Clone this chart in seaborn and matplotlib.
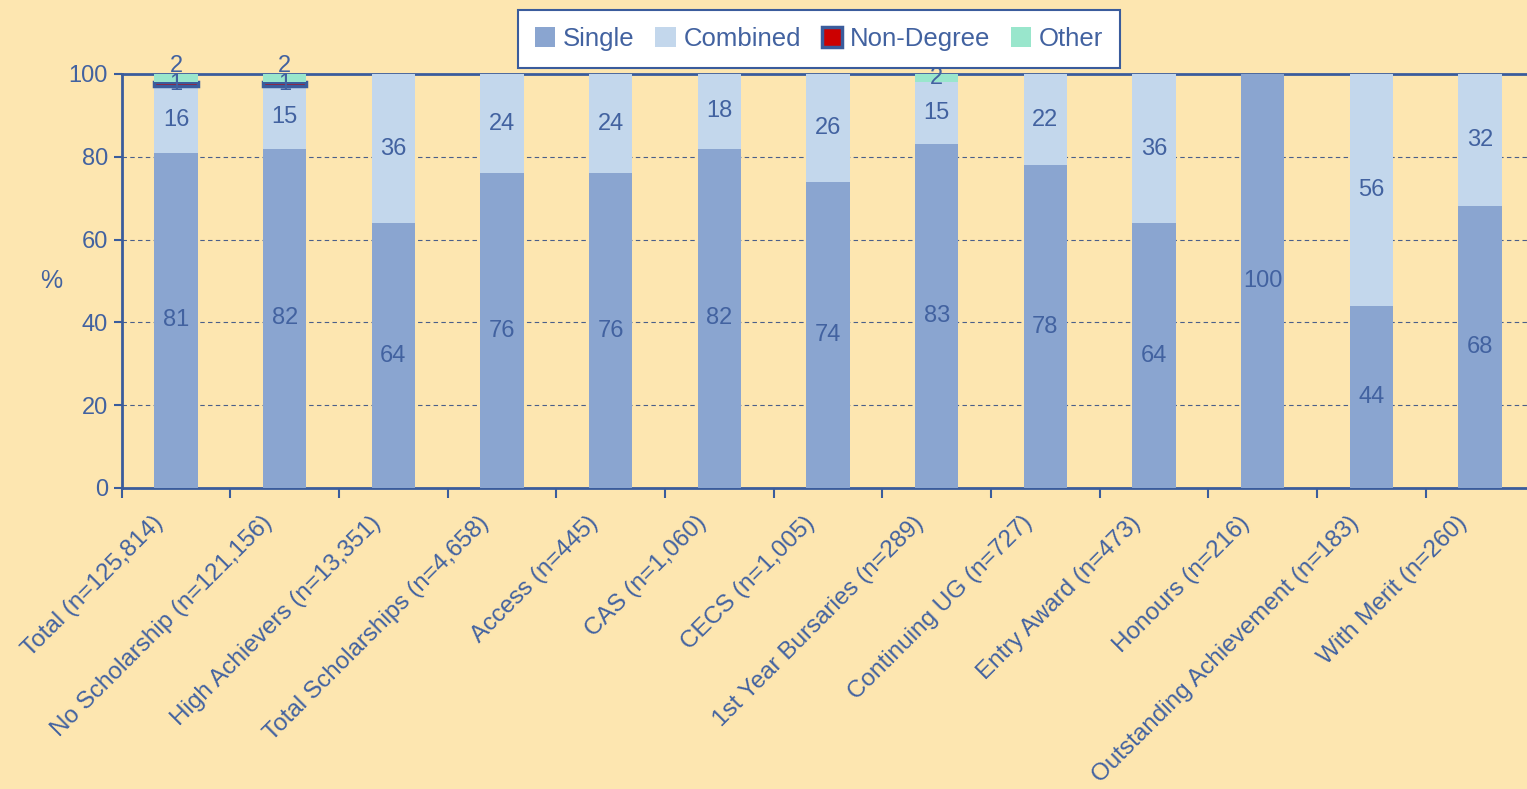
import pandas as pd
import numpy as np
import matplotlib.pyplot as plt
import matplotlib.transforms as mtransforms
import seaborn as sns

categories = ["Total (n=125,814)", "No Scholarship (n=121,156)", "High Achievers (n=13,351)",
              "Total Scholarships (n=4,658)", "Access (n=445)", "CAS (n=1,060)", "CECS (n=1,005)",
              "1st Year Bursaries (n=289)", "Continuing UG (n=727)", "Entry Award (n=473)",
              "Honours (n=216)", "Outstanding Achievement (n=183)", "With Merit (n=260)"]
single = [81, 82, 64, 76, 76, 82, 74, 83, 78, 64, 100, 44, 68]
combined = [16, 15, 36, 24, 24, 18, 26, 15, 22, 36, 0, 56, 32]
non_degree = [1, 1, 0, 0, 0, 0, 0, 0, 0, 0, 0, 0, 0]
other = [2, 2, 0, 0, 0, 0, 0, 2, 0, 0, 0, 0, 0]

series = {"Single": single, "Combined": combined, "Non-Degree": non_degree, "Other": other}
colors = {"Single": "#8AA5D0", "Combined": "#C3D7EC", "Non-Degree": "#CC0000", "Other": "#99E6CC"}
txt = "#4262A0"
line_c = "#3A5C9C"
bg = "#FDE6B0"

plt.rcParams["font.family"] = ["Liberation Sans", "DejaVu Sans"]

fig = plt.figure(figsize=(15.27, 7.89), dpi=100, facecolor=bg)
ax = fig.add_axes([121.7 / 1527, 301 / 789, 1412.7 / 1527, 414 / 789])
ax.set_facecolor(bg)

bottom = np.zeros(len(categories))
handles = []
for name, vals in series.items():
    df = pd.DataFrame({"cat": categories, "val": vals})
    edge = line_c if name == "Non-Degree" else "none"
    lw = 2.5 if name == "Non-Degree" else 0
    n_before = len(ax.patches)
    sns.barplot(data=df, x="cat", y="val", bottom=bottom, color=colors[name], width=0.4,
                edgecolor=edge, linewidth=lw, ax=ax, saturation=1, zorder=3)
    for p, v in zip(ax.patches[n_before:], vals):
        if v == 0:
            p.set_visible(False)
    for i, v in enumerate(vals):
        if v > 0:
            # Excel nudged the "Other" label up where it collides with Non-Degree
            shift = 9 if (name == "Other" and non_degree[i] > 0) else 0
            trans = ax.transData + mtransforms.ScaledTranslation(0, shift / 72, fig.dpi_scale_trans)
            ax.text(i, bottom[i] + v / 2, str(v), ha="center", va="center",
                    color=txt, fontsize=17, zorder=5, transform=trans)
    handles.append(plt.Rectangle((0, 0), 1, 1, facecolor=colors[name], edgecolor=edge, linewidth=lw))
    bottom = bottom + np.array(vals)

ax.set_xlim(-0.5, 12.5)
ax.set_ylim(0, 100)
ax.set_yticks([0, 20, 40, 60, 80, 100])
for y in [20, 40, 60, 80]:
    ax.axhline(y, color="#4A5F8A", linestyle=(0, (4, 3)), linewidth=0.8, zorder=1)

# category ticks sit between bars; labels drawn as rotated text under each bar
ax.set_xticks(np.arange(-0.5, 13, 1))
ax.set_xticklabels([])
lbl_trans = ax.get_xaxis_transform() + mtransforms.ScaledTranslation(-0.24, -0.24, fig.dpi_scale_trans)
for i, cat in enumerate(categories):
    ax.text(i, 0, cat, rotation=45, ha="right", va="top", rotation_mode="anchor",
            color=txt, fontsize=17.5, transform=lbl_trans)
ax.tick_params(axis="x", which="major", length=7, width=1.5, color=line_c)
ax.tick_params(axis="y", length=6, width=1.5, color=line_c, labelcolor=txt, labelsize=17, pad=4)

ax.set_xlabel("")
ax.set_ylabel("%", rotation=0, color=txt, fontsize=18, va="center", ha="center")
ax.yaxis.set_label_coords(-0.05, 0.5)

for s in ["left", "bottom", "top"]:
    ax.spines[s].set_color(line_c)
    ax.spines[s].set_linewidth(2)
ax.spines["right"].set_visible(False)

leg = fig.legend(handles, list(series.keys()), loc="center", bbox_to_anchor=(819 / 1527, 1 - 39 / 789),
                 ncol=4, frameon=True, fontsize=18.5, handlelength=0.8, handleheight=0.8,
                 handletextpad=0.3, columnspacing=0.8, fancybox=False, borderpad=0.65,
                 framealpha=1)
leg.get_frame().set_edgecolor(line_c)
leg.get_frame().set_linewidth(1.5)
leg.get_frame().set_facecolor("white")
for t in leg.get_texts():
    t.set_color(txt)

fig.savefig("out.png", dpi=100, facecolor=bg)
